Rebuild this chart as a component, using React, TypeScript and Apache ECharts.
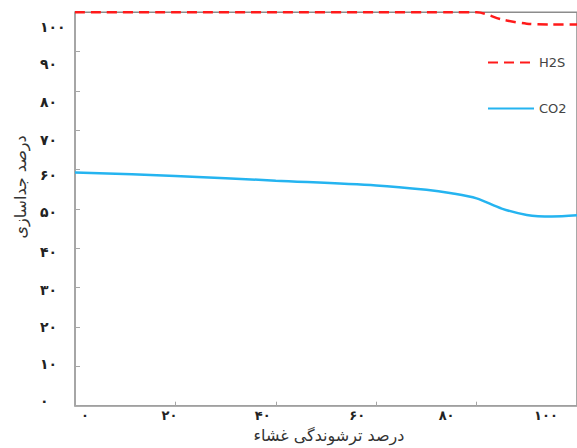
import React, { useEffect, useRef } from "react";
import * as echarts from "echarts";

// Data
const wettability = [0, 20, 40, 60, 70, 75, 80, 85, 90, 95, 100];
const h2s = [100, 100, 100, 100, 100, 100, 100, 98.2, 97.1, 96.9, 96.9];
const co2 = [59.3, 58.4, 57.2, 56.0, 54.9, 54.0, 52.7, 50.1, 48.5, 48.1, 48.4];
const xTicks = [0, 20, 40, 60, 80, 100];
const yTicks = [0, 10, 20, 30, 40, 50, 60, 70, 80, 90, 100];

const xTitle = "درصد ترشوندگی غشاء";
const yTitle = "درصد جداسازی";

// label nudges (px) to mimic the reference's label placement
const xShift: Record<number, number> = { 0: 10, 20: -6, 40: -13, 60: -19, 80: -30, 100: -31 };
const yShift: Record<number, number> = {
  0: -4.5, 10: -2.4, 20: -0.3, 30: 2.3, 40: 3.4, 50: 2.7, 60: 5.3, 70: 9.7, 80: 10.7, 90: 12.4, 100: 14.4,
};

const fa = (n: number) => String(n).replace(/\d/g, (d) => "۰۱۲۳۴۵۶۷۸۹"[+d]);

const FONT = "DejaVu Sans";

export default function App() {
  const ref = useRef<HTMLDivElement>(null);
  useEffect(() => {
    if (!ref.current) return;
    const chart = echarts.init(ref.current, undefined, { renderer: "svg" });

    const xRich: Record<string, any> = {};
    xTicks.forEach((v) => {
      const s = xShift[v] || 0;
      xRich["x" + v] = {
        fontSize: 13,
        fontWeight: "bold",
        fontFamily: FONT,
        color: "#222",
        padding: s >= 0 ? [0, 0, 0, 2 * s] : [0, -2 * s, 0, 0],
      };
    });
    const yRich: Record<string, any> = {};
    yTicks.forEach((v) => {
      const s = yShift[v] || 0;
      yRich["y" + v] = {
        fontSize: 14,
        fontWeight: "bold",
        fontFamily: FONT,
        color: "#222",
        padding: s >= 0 ? [2 * s, 0, 0, 0] : [0, 0, -2 * s, 0],
      };
    });

    chart.setOption({
      animation: false,
      backgroundColor: "#ffffff",
      textStyle: { fontFamily: FONT },
      grid: {
        left: 75,
        right: -12,
        top: 12.3,
        bottom: 42.3,
        show: true,
        borderColor: "#8c8c8c",
        borderWidth: 1.5,
      },
      legend: {
        orient: "vertical",
        left: 487,
        top: 56,
        padding: 0,
        itemWidth: 46,
        itemHeight: 14,
        itemGap: 33,
        itemStyle: { color: "rgba(0,0,0,0)", borderWidth: 0, opacity: 0 },
        textStyle: { fontSize: 13, color: "#444", fontFamily: FONT },
        data: ["H2S", "CO2"],
      },
      xAxis: {
        type: "value",
        min: 0,
        max: 100,
        interval: 20,
        axisLine: { show: true, lineStyle: { color: "#a6a6a6", width: 1.5 } },
        axisTick: { show: true, inside: true, length: 4, lineStyle: { color: "#a6a6a6" } },
        splitLine: { show: false },
        axisLabel: {
          margin: 3,
          formatter: (v: number) => `{x${v}|${fa(v)}}`,
          rich: xRich,
        },
      },
      yAxis: {
        type: "value",
        min: 0,
        max: 100,
        interval: 10,
        axisLine: { show: true, lineStyle: { color: "#a6a6a6", width: 1.5 } },
        axisTick: { show: true, inside: true, length: 5, lineStyle: { color: "#a6a6a6" } },
        splitLine: { show: false },
        axisLabel: {
          margin: 35,
          align: "left",
          formatter: (v: number) => `{y${v}|${fa(v)}}`,
          rich: yRich,
        },
      },
      graphic: [
        {
          type: "text",
          x: 329,
          y: 435,
          style: {
            text: xTitle,
            fontSize: 16,
            fontFamily: FONT,
            fill: "#333",
            align: "center",
            verticalAlign: "middle",
          },
        },
        {
          type: "text",
          x: 20,
          y: 187,
          rotation: Math.PI / 2,
          style: {
            text: yTitle,
            fontSize: 16,
            fontFamily: FONT,
            fill: "#333",
            align: "center",
            verticalAlign: "middle",
          },
        },
      ],
      series: [
        {
          name: "H2S",
          type: "line",
          data: wettability.map((x, i) => [x, h2s[i]]),
          symbol: "none",
          smooth: 0.3,
          lineStyle: { color: "#ff1a1a", width: 2.5, type: [10, 6] },
          itemStyle: { color: "#ff1a1a" },
          z: 3,
        },
        {
          name: "CO2",
          type: "line",
          data: wettability.map((x, i) => [x, co2[i]]),
          symbol: "none",
          smooth: 0.3,
          lineStyle: { color: "#25b4f0", width: 2.5 },
          itemStyle: { color: "#25b4f0" },
          z: 2,
        },
      ],
    });
    return () => chart.dispose();
  }, []);

  return (
    <div
      ref={ref}
      style={{ position: "absolute", left: 0, top: 0, width: 577, height: 448 }}
    />
  );
}
